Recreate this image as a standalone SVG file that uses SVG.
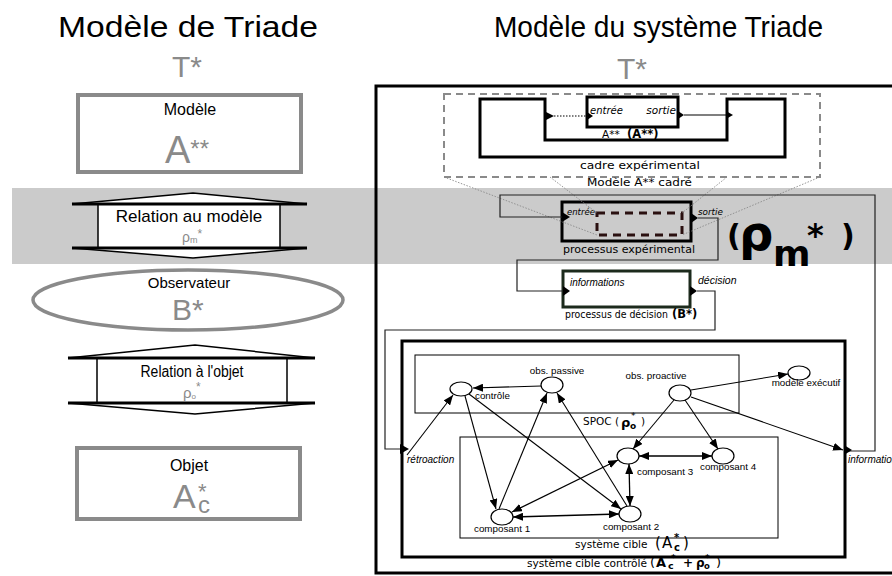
<svg xmlns="http://www.w3.org/2000/svg" width="892" height="576" viewBox="0 0 892 576">
<defs>
<style>
.t{font-family:"Liberation Sans",Arial,sans-serif;}
.d{font-family:"DejaVu Sans",Verdana,sans-serif;}
.g{fill:#8a8a8a;}
.gbox{fill:#fff;stroke:#8a8a8a;stroke-width:4;}
.thin{fill:none;stroke:#000;stroke-width:1;}
.thick{fill:none;stroke:#000;stroke-width:3;}
.node{fill:#fff;stroke:#000;stroke-width:1.2;}
.e{fill:none;stroke:#000;stroke-width:1.1;marker-end:url(#ah);}
.e2{fill:none;stroke:#000;stroke-width:1.3;marker-start:url(#ah);marker-end:url(#ah);}
.proj{fill:none;stroke:#8a8a8a;stroke-width:0.9;stroke-dasharray:1.5 1.5;}
.loop{fill:none;stroke:#222;stroke-width:1.2;}
.port{fill:#000;}
.lab{font-family:"Liberation Sans",Arial,sans-serif;font-size:9.8px;}
.it{font-style:italic;}
.chev{fill:#fff;stroke:#000;stroke-width:1.5;}
.bar{stroke:#000;stroke-width:3;}
</style>
<marker id="ah" viewBox="0 0 10 8" refX="10" refY="4" markerWidth="10" markerHeight="8" markerUnits="userSpaceOnUse" orient="auto-start-reverse"><path d="M0,0 L10,4 L0,8 z" fill="#000"/></marker>
</defs>
<rect width="892" height="576" fill="#fff"/>
<rect id="band" x="12" y="188" width="880" height="76" fill="#cbcbcb"/>

<!-- LEFT COLUMN -->
<g id="left-title">
<text class="t" x="58" y="37" font-size="30" textLength="260" lengthAdjust="spacingAndGlyphs">Modèle de Triade</text>
<text class="t g" x="172" y="77" font-size="30">T*</text>
</g>
<g id="node-modele">
<rect class="gbox" x="78" y="95" width="223" height="77"/>
<text class="t" x="190" y="115" font-size="16" text-anchor="middle">Modèle</text>
<text class="t g" x="165" y="163" font-size="38">A<tspan font-size="24" dy="-6">**</tspan></text>
</g>
<g id="node-relation-modele">
<polygon class="chev" points="72,204 193,193 307,204"/>
<polygon class="chev" points="72,248 193,258 307,248"/>
<rect class="chev" x="98" y="204" width="182" height="44"/>
<line class="bar" x1="72" y1="204" x2="307" y2="204"/>
<line class="bar" x1="72" y1="248" x2="307" y2="248"/>
<text class="t" x="189" y="222" font-size="17" text-anchor="middle">Relation au modèle</text>
<text class="t g" x="182" y="242" font-size="14">ρ<tspan font-size="9" dy="1">m</tspan><tspan font-size="12" dy="-5">*</tspan></text>
</g>
<g id="node-observateur">
<ellipse cx="188" cy="300" rx="155" ry="30" fill="#fff" stroke="#8a8a8a" stroke-width="3.5"/>
<text class="t" x="189" y="288" font-size="15" text-anchor="middle">Observateur</text>
<text class="t g" x="172" y="320" font-size="30">B*</text>
</g>
<g id="node-relation-objet">
<polygon class="chev" points="68,358 195,345 315,358"/>
<polygon class="chev" points="68,403 195,414 315,403"/>
<rect class="chev" x="97" y="358" width="190" height="45"/>
<line class="bar" x1="68" y1="358" x2="315" y2="358"/>
<line class="bar" x1="68" y1="403" x2="315" y2="403"/>
<text class="t" x="192" y="377" font-size="16" text-anchor="middle" textLength="103" lengthAdjust="spacingAndGlyphs">Relation à l'objet</text>
<text class="t g" x="183" y="398" font-size="15">ρ<tspan font-size="8" dy="1">o</tspan><tspan font-size="12" dy="-8">*</tspan></text>
</g>
<g id="node-objet">
<rect class="gbox" x="77" y="448" width="223" height="71"/>
<text class="t" x="189" y="471" font-size="16" text-anchor="middle">Objet</text>
<text class="t g" font-size="34"><tspan x="173" y="508">A</tspan><tspan x="198" y="499" font-size="22">*</tspan><tspan x="198" y="513" font-size="24">c</tspan></text>
</g>

<!-- RIGHT COLUMN -->
<g id="right-title">
<text class="t" x="494" y="37" font-size="30" textLength="329" lengthAdjust="spacingAndGlyphs">Modèle du système Triade</text>
<text class="t g" x="617" y="79" font-size="30">T*</text>
</g>
<g id="frame-triade">
<path d="M892 86 H376 V573 H892" fill="none" stroke="#000" stroke-width="3"/>
</g>

<g id="node-modele-cadre">
<rect x="444" y="94" width="376" height="83" fill="none" stroke="#8a8a8a" stroke-width="2" stroke-dasharray="7 5"/>
<polygon class="thick" points="480,99 545,99 545,140 727,140 727,99 785,99 785,157 480,157"/>
<text class="d" x="580" y="169" font-size="11" textLength="120" lengthAdjust="spacingAndGlyphs">cadre expérimental</text>
<text class="d" x="587" y="186" font-size="11" textLength="105" lengthAdjust="spacingAndGlyphs">Modèle A** cadré</text>
</g>
<g id="node-A">
<rect class="thick" x="587" y="97" width="91" height="30"/>
<text class="d it" x="590" y="114" font-size="10">entrée</text>
<text class="d it" x="676" y="114" font-size="10.5" text-anchor="end">sortie</text>
<text class="d" x="602" y="138" font-size="10.5">A**</text>
<text class="d" x="627" y="138" font-size="11.5" font-weight="bold">(A**)</text>
</g>

<g id="node-processus-experimental">
<rect class="thick" x="562" y="202" width="129" height="39"/>
<rect x="597" y="213" width="85" height="22" fill="none" stroke="#2a1010" stroke-width="3" stroke-dasharray="8 6"/>
<text class="d it" x="567" y="215" font-size="8.5">entrée</text>
<text class="d it" x="698" y="215" font-size="8.8">sortie</text>
<text class="d" x="563" y="253" font-size="10.5" textLength="132" lengthAdjust="spacingAndGlyphs">processus  expérimental</text>
</g>

<g id="label-rho-m">
<text class="d" font-weight="bold" fill="#000"><tspan x="727" y="246" font-size="30">(</tspan><tspan x="739" y="250" font-size="48">ρ</tspan><tspan x="773" y="266" font-size="36">m</tspan><tspan x="807" y="246" font-size="32">*</tspan><tspan x="841" y="246" font-size="30">)</tspan></text>
</g>

<g id="node-processus-decision">
<rect x="563" y="271" width="127" height="36" fill="none" stroke="#1c2a1c" stroke-width="3"/>
<text class="t it" x="570" y="286" font-size="10">informations</text>
<text class="t it" x="698" y="284" font-size="10.5">décision</text>
<text class="d" x="565" y="318" font-size="10.5" textLength="103" lengthAdjust="spacingAndGlyphs">processus de décision</text>
<text class="d" x="672" y="318" font-size="11.5" font-weight="bold">(B*)</text>
</g>

<g id="node-systeme-cible-controle">
<rect class="thick" x="402" y="341" width="443" height="216"/>
<text class="d" x="527" y="567" font-size="10.5" textLength="120" lengthAdjust="spacingAndGlyphs">système cible contrôlé</text>
<text class="d" font-weight="bold"><tspan x="650" y="567" font-size="13" font-weight="normal">(</tspan><tspan x="656" y="567" font-size="13">A</tspan><tspan x="668" y="569" font-size="9.5">c</tspan><tspan x="671" y="561" font-size="9">*</tspan><tspan x="683" y="567" font-size="12">+</tspan><tspan x="696" y="567" font-size="12">ρ</tspan><tspan x="704" y="569" font-size="8.5">o</tspan><tspan x="705" y="561" font-size="9">*</tspan><tspan x="716" y="567" font-size="13" font-weight="normal">)</tspan></text>
<text class="t it" x="407" y="463" font-size="10">rétroaction</text>
<text class="t it" x="848" y="463" font-size="10">information</text>
</g>

<g id="node-spoc">
<rect class="thin" x="415" y="355" width="324" height="58"/>
<text class="d" font-size="10.5"><tspan x="583" y="425">SPOC (</tspan><tspan x="621" y="427" font-size="13" font-weight="bold">ρ</tspan><tspan x="630" y="429" font-size="9" font-weight="bold">o</tspan><tspan x="631" y="419" font-size="9">*</tspan><tspan x="641" y="425">)</tspan></text>
</g>

<g id="node-systeme-cible">
<rect class="thin" x="460" y="437" width="318" height="101"/>
<text class="d" font-size="10.5"><tspan x="575" y="548">système cible</tspan><tspan x="655" y="548" font-size="15">(</tspan><tspan x="662" y="548" font-size="15">A</tspan><tspan x="674" y="551" font-size="10" font-weight="bold">c</tspan><tspan x="674" y="541" font-size="10" font-weight="bold">*</tspan><tspan x="683" y="548" font-size="15">)</tspan></text>
</g>

<g id="node-controle"><ellipse class="node" cx="461" cy="389" rx="11" ry="7"/><text class="lab" x="475" y="399" font-size="8.5">contrôle</text></g>
<g id="node-obs-passive"><ellipse class="node" cx="552" cy="385" rx="11" ry="8"/><text class="lab" x="557" y="374" text-anchor="middle" font-size="10">obs. passive</text></g>
<g id="node-obs-proactive"><ellipse class="node" cx="680" cy="393" rx="11" ry="8"/><text class="lab" x="656" y="379" text-anchor="middle" font-size="10">obs. proactive</text></g>
<g id="node-modele-executif"><ellipse class="node" cx="799" cy="373" rx="11" ry="7"/><text class="lab" x="806" y="386" text-anchor="middle" font-size="9.7">modèle exécutif</text></g>
<g id="node-composant3"><ellipse class="node" cx="628" cy="456" rx="11" ry="8"/><text class="lab" x="637" y="475">composant 3</text></g>
<g id="node-composant4"><ellipse class="node" cx="723" cy="456" rx="11" ry="8"/><text class="lab" x="700" y="470">composant 4</text></g>
<g id="node-composant1"><ellipse class="node" cx="502" cy="517" rx="11" ry="8"/><text class="lab" x="474" y="532">composant 1</text></g>
<g id="node-composant2"><ellipse class="node" cx="630" cy="514" rx="11" ry="8"/><text class="lab" x="603" y="530">composant 2</text></g>

<g id="connectors">
<line class="proj" x1="444" y1="177" x2="597" y2="235"/>
<line class="proj" x1="550" y1="177" x2="597" y2="213"/>
<line class="proj" x1="727" y1="177" x2="682" y2="213"/>
<line class="proj" x1="820" y1="177" x2="682" y2="235"/>
<line x1="554" y1="116" x2="587" y2="116" stroke="#000" stroke-width="1.2" stroke-dasharray="1.5 1.5"/>
<line x1="684" y1="115" x2="726" y2="115" stroke="#000" stroke-width="1.2"/>
<polygon class="port" points="546,112 554,116 546,120"/>
<polygon class="port" points="587,112 593,116 587,120"/>
<polygon class="port" points="678,111 684,115 678,119"/>
<polygon class="port" points="726,111 733,115 726,119"/>
<path class="loop" d="M848 451 H875 V195 H500 V217 H562"/>
<path class="loop" d="M698 218 H718 V260 H517 V291 H563"/>
<path class="loop" d="M697 291 H715 V330 H385 V449 H400"/>
<polygon class="port" points="562,212 570,217 562,222"/>
<polygon class="port" points="691,213 698,218 691,223"/>
<polygon class="port" points="563,286 570,291 563,296"/>
<polygon class="port" points="690,286 697,291 690,296"/>
<polygon class="port" points="400,444 409,449 400,454"/>
<polygon class="port" points="844,445 852,450 844,455"/>
<line class="e" x1="541" y1="386" x2="473" y2="388"/>
<line class="e" x1="407" y1="455" x2="453" y2="395"/>
<line class="e" x1="465" y1="396" x2="496" y2="509"/>
<line class="e" x1="469" y1="394" x2="621" y2="509"/>
<line class="e" x1="499" y1="509" x2="547" y2="393"/>
<line class="e" x1="627" y1="506" x2="557" y2="393"/>
<line class="e" x1="674" y1="400" x2="633" y2="449"/>
<line class="e" x1="685" y1="400" x2="718" y2="449"/>
<line class="e" x1="691" y1="390" x2="788" y2="374"/>
<line class="e" x1="691" y1="397" x2="843" y2="450" stroke-width="1.6"/>
<line class="e2" x1="639" y1="456" x2="712" y2="456"/>
<line class="e2" x1="629" y1="464" x2="630" y2="506"/>
<line class="e2" x1="618" y1="460" x2="512" y2="512"/>
<line class="e2" x1="513" y1="517" x2="619" y2="514" stroke-width="1.8"/>
</g>
</svg>
